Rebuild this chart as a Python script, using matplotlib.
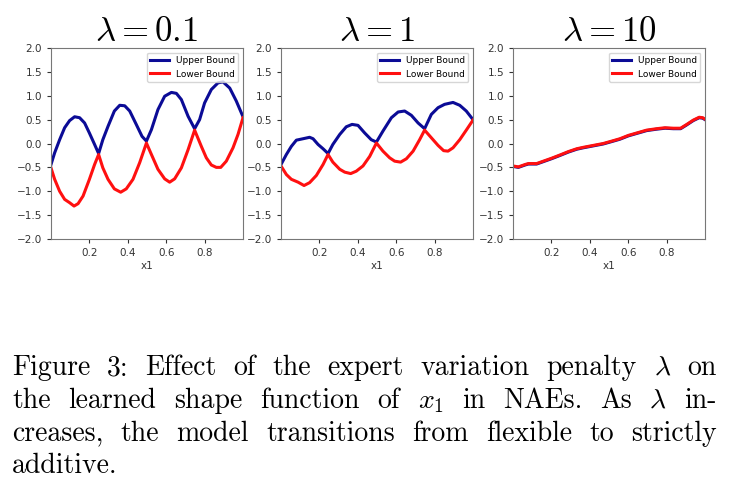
import matplotlib
matplotlib.use("Agg")
import matplotlib.pyplot as plt

plt.rcParams['mathtext.fontset'] = 'cm'

# values
lambdas = ['0.1', '1', '10']

x_up_01 = [0.0, 0.019, 0.045, 0.071, 0.097, 0.123, 0.149, 0.175, 0.2, 0.227, 0.248,
           0.27, 0.297, 0.33, 0.358, 0.384, 0.41, 0.444, 0.474, 0.497,
           0.523, 0.557, 0.592, 0.627, 0.653, 0.679, 0.714, 0.748,
           0.774, 0.8, 0.835, 0.87, 0.896, 0.931, 0.965, 1.0]
y_up_01 = [-0.44, -0.195, 0.08, 0.33, 0.48, 0.56, 0.54, 0.43, 0.22, -0.02, -0.21,
           0.08, 0.36, 0.68, 0.80, 0.79, 0.68, 0.40, 0.15, 0.05,
           0.29, 0.71, 0.99, 1.07, 1.05, 0.92, 0.57, 0.31,
           0.50, 0.85, 1.13, 1.27, 1.29, 1.16, 0.89, 0.56]
x_lo_01 = [0.0, 0.019, 0.045, 0.071, 0.097, 0.12, 0.141, 0.167, 0.2, 0.227, 0.248,
           0.27, 0.297, 0.33, 0.363, 0.392, 0.427, 0.462, 0.497,
           0.523, 0.557, 0.592, 0.618, 0.644, 0.679, 0.714, 0.748,
           0.783, 0.809, 0.835, 0.861, 0.884, 0.913, 0.948, 0.974, 1.0]
y_lo_01 = [-0.51, -0.75, -1.0, -1.17, -1.24, -1.31, -1.26, -1.10, -0.75, -0.44, -0.23,
           -0.51, -0.75, -0.95, -1.02, -0.95, -0.75, -0.40, 0.01,
           -0.23, -0.54, -0.74, -0.81, -0.74, -0.51, -0.13, 0.28,
           -0.06, -0.30, -0.45, -0.50, -0.50, -0.37, -0.09, 0.19, 0.54]

x_up_1 = [0.0, 0.028, 0.054, 0.08, 0.115, 0.149, 0.167, 0.193, 0.219, 0.245,
          0.27, 0.306, 0.34, 0.37, 0.401, 0.436, 0.47, 0.497,
          0.531, 0.575, 0.61, 0.644, 0.679, 0.714, 0.748,
          0.783, 0.818, 0.852, 0.896, 0.931, 0.965, 1.0]
y_up_1 = [-0.44, -0.23, -0.06, 0.07, 0.10, 0.13, 0.10, -0.02, -0.11, -0.21,
          -0.02, 0.19, 0.35, 0.40, 0.38, 0.22, 0.08, 0.03,
          0.26, 0.54, 0.66, 0.68, 0.59, 0.43, 0.31,
          0.61, 0.75, 0.82, 0.86, 0.80, 0.68, 0.50]
x_lo_1 = [0.0, 0.028, 0.054, 0.089, 0.12, 0.149, 0.184, 0.219, 0.245,
          0.27, 0.306, 0.332, 0.363, 0.392, 0.427, 0.462, 0.497,
          0.531, 0.566, 0.592, 0.623, 0.653, 0.688, 0.722, 0.748,
          0.783, 0.818, 0.847, 0.87, 0.896, 0.931, 0.965, 1.0]
y_lo_1 = [-0.47, -0.65, -0.75, -0.81, -0.88, -0.82, -0.67, -0.44, -0.23,
          -0.39, -0.54, -0.60, -0.63, -0.58, -0.47, -0.27, 0.01,
          -0.16, -0.30, -0.37, -0.39, -0.32, -0.16, 0.08, 0.28,
          0.12, -0.04, -0.15, -0.16, -0.09, 0.08, 0.28, 0.49]

x_10 = [0.0, 0.028, 0.063, 0.08, 0.123, 0.158, 0.2, 0.245, 0.288, 0.332, 0.366,
        0.418, 0.47, 0.514, 0.557, 0.601, 0.644, 0.696, 0.748, 0.792, 0.835,
        0.873, 0.905, 0.939, 0.97, 0.988, 1.0]
y_up_10 = [-0.48, -0.50, -0.45, -0.43, -0.43, -0.38, -0.32, -0.25, -0.18, -0.12, -0.09,
           -0.05, -0.01, 0.04, 0.09, 0.16, 0.21, 0.27, 0.30, 0.32, 0.31,
           0.31, 0.39, 0.48, 0.54, 0.53, 0.50]
y_lo_10 = [-0.47, -0.49, -0.44, -0.42, -0.42, -0.37, -0.31, -0.24, -0.17, -0.11, -0.08,
           -0.04, 0.0, 0.05, 0.10, 0.17, 0.22, 0.28, 0.31, 0.33, 0.32,
           0.32, 0.40, 0.49, 0.55, 0.54, 0.51]

panels = [
    (x_up_01, y_up_01, x_lo_01, y_lo_01),
    (x_up_1, y_up_1, x_lo_1, y_lo_1),
    (x_10, y_up_10, x_10, y_lo_10),
]

xticks = [0.2, 0.4, 0.6, 0.8]
yticks = [-2.0, -1.5, -1.0, -0.5, 0.0, 0.5, 1.0, 1.5, 2.0]

caption_lines = [
    [r'Figure', r'3:', r'Effect', r'of', r'the', r'expert', r'variation', r'penalty', r'$\lambda$', r'on'],
    [r'the', r'learned', r'shape', r'function', r'of', r'$x_1$', r'in', r'NAEs.', r'As', r'$\lambda$', r'in-'],
    [r'creases,', r'the', r'model', r'transitions', r'from', r'flexible', r'to', r'strictly'],
    [r'additive.'],
]

W, H = 733, 504
fig = plt.figure(figsize=(W / 100, H / 100), dpi=100)

lefts = [51, 281, 513]
for i, (xu, yu, xl, yl) in enumerate(panels):
    ax = fig.add_axes([lefts[i] / W, 1 - 239 / H, 192 / W, 191 / H])
    ax.plot(xu, yu, color='#0b0b96', lw=2.2, label='Upper Bound')
    ax.plot(xl, yl, color='#ff1010', lw=2.2, label='Lower Bound')
    ax.set_xlim(0, 1)
    ax.set_ylim(-2, 2)
    ax.set_xticks(xticks)
    ax.set_yticks(yticks)
    ax.tick_params(labelsize=7.5, colors='#333333', length=3)
    for s in ax.spines.values():
        s.set_color('#777777')
        s.set_linewidth(0.8)
    ax.set_xlabel('x1', fontsize=7.5, color='#333333', labelpad=2)
    ax.set_title(r'$\lambda = %s$' % lambdas[i], fontsize=25, pad=5)
    ax.legend(loc='upper right', fontsize=6.5)

# justified caption, placed word by word
renderer = fig.canvas.get_renderer()
x0, x1 = 12, 717
baselines = [375, 408, 441, 473]
size = 20

for li, words in enumerate(caption_lines):
    yb = 1 - baselines[li] / H
    texts = [fig.text(0, yb, w, fontsize=size, family='cmr10', va='baseline') for w in words]
    widths = [t.get_window_extent(renderer).width for t in texts]
    if li < len(caption_lines) - 1:
        gap = ((x1 - x0) - sum(widths)) / (len(words) - 1)
    else:
        gap = 0.36 * size * 100 / 72
    xp = x0
    for t, w in zip(texts, widths):
        t.set_x(xp / W)
        xp += w + gap

fig.savefig('out.png', dpi=100)
